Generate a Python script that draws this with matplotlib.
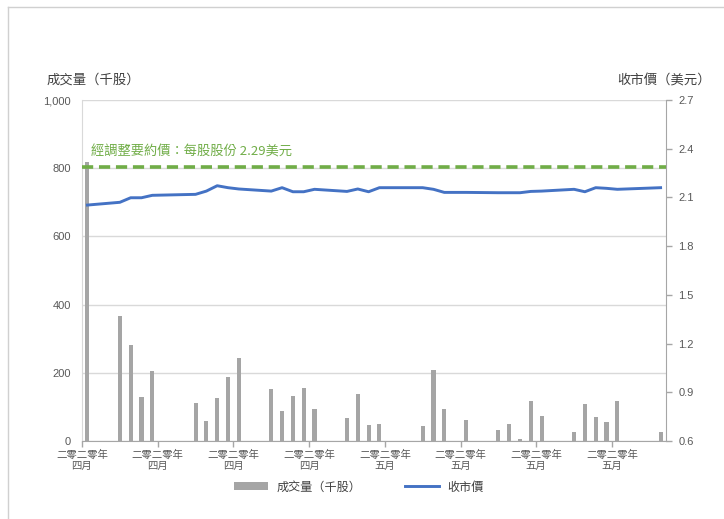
import matplotlib
matplotlib.use("Agg")
import matplotlib.pyplot as plt
import pandas as pd
from matplotlib.lines import Line2D
from matplotlib.patches import Patch

# Trading days, daily volume (thousand shares) and closing price (USD)
trade_dates = [
    "2020-04-03",
    "2020-04-06", "2020-04-07", "2020-04-08", "2020-04-09",
    "2020-04-13", "2020-04-14", "2020-04-15", "2020-04-16", "2020-04-17",
    "2020-04-20", "2020-04-21", "2020-04-22", "2020-04-23", "2020-04-24",
    "2020-04-27", "2020-04-28", "2020-04-29", "2020-04-30", "2020-05-01",
    "2020-05-04", "2020-05-05", "2020-05-06", "2020-05-07", "2020-05-08",
    "2020-05-11", "2020-05-12", "2020-05-13", "2020-05-14", "2020-05-15",
    "2020-05-18", "2020-05-19", "2020-05-20", "2020-05-21", "2020-05-22",
    "2020-05-26",
]
volume = [
    819,
    367, 281, 128, 206,
    112, 59, 126, 188, 244,
    152, 87, 132, 154, 95,
    68, 137, 47, 51, 0,
    45, 208, 94, 0, 62,
    33, 49, 5, 118, 73,
    27, 108, 69, 55, 116,
    27,
]
close_price = [
    2.053,
    2.070, 2.098, 2.098, 2.113,
    2.119, 2.139, 2.172, 2.160, 2.152,
    2.139, 2.160, 2.135, 2.135, 2.150,
    2.137, 2.152, 2.135, 2.160, 2.160,
    2.160, 2.150, 2.131, 2.131, 2.131,
    2.129, 2.129, 2.129, 2.137, 2.139,
    2.150, 2.135, 2.160, 2.156, 2.150,
    2.160,
]
offer_price = 2.29
axis_start = "2020-04-03"
axis_end = "2020-05-26"
tick_dates = ["2020-04-03", "2020-04-10", "2020-04-17", "2020-04-24",
              "2020-05-01", "2020-05-08", "2020-05-15", "2020-05-22"]
tick_labels = ["二零二零年\n四月"] * 4 + ["二零二零年\n五月"] * 4

vol_label = "成交量（千股）"
price_label = "收市價"
price_axis_label = "收市價（美元）"
offer_text = "經調整要約價：每股股份 2.29美元"

CJK = ["Noto Sans CJK TC", "DejaVu Sans"]
NUM = ["Liberation Sans", "DejaVu Sans"]
TXT = "#595959"
GREY_BAR = "#A5A5A5"
BLUE = "#4472C4"
GREEN = "#70AD47"

start = pd.Timestamp(axis_start)
day_idx = [(pd.Timestamp(d) - start).days for d in trade_dates]
n_days = (pd.Timestamp(axis_end) - start).days + 1
tick_pos = [(pd.Timestamp(d) - start).days - 0.5 for d in tick_dates]

W, H = 724, 519
fig = plt.figure(figsize=(W / 100, H / 100), dpi=100)

# outer chart frame
fig.add_artist(Line2D([8 / W, 8 / W], [0, 1 - 7 / H], transform=fig.transFigure,
                      color="#D0D0D0", lw=1))
fig.add_artist(Line2D([8 / W, 1], [1 - 7 / H, 1 - 7 / H], transform=fig.transFigure,
                      color="#D0D0D0", lw=1))

left, right, top, bottom = 82, 666, 100, 441
ax = fig.add_axes([left / W, 1 - bottom / H, (right - left) / W, (bottom - top) / H])
ax2 = ax.twinx()

# volume bars
ax.bar(day_idx, volume, width=0.38, color=GREY_BAR, zorder=2)
ax.set_xlim(-0.5, n_days - 0.5)
ax.set_ylim(0, 1000)
ax.set_yticks([0, 200, 400, 600, 800, 1000])
ax.set_yticklabels([f"{v:,}" for v in [0, 200, 400, 600, 800, 1000]],
                   fontfamily=NUM, fontsize=8, color=TXT)
ax.yaxis.grid(True, color="#D9D9D9", lw=1, zorder=0)
ax.set_axisbelow(True)
ax.tick_params(axis="y", length=0, pad=8)
ax.set_xticks(tick_pos)
ax.set_xticklabels(tick_labels, fontfamily=CJK, fontsize=7.5, color=TXT,
                   linespacing=1.15)
ax.tick_params(axis="x", length=4, width=1, color="#A6A6A6", pad=2)
for s in ["top", "right"]:
    ax.spines[s].set_visible(False)
ax.spines["left"].set_color("#D9D9D9")
ax.spines["bottom"].set_color("#A6A6A6")

# closing price and offer price
ax2.plot(day_idx, close_price, color=BLUE, lw=2.1, zorder=3,
         solid_joinstyle="round")
ax2.axhline(offer_price, color=GREEN, lw=2.6, dashes=(3.1, 1.6), zorder=3)
ax2.set_ylim(0.6, 2.7)
pticks = [0.6, 0.9, 1.2, 1.5, 1.8, 2.1, 2.4, 2.7]
ax2.set_yticks(pticks)
ax2.set_yticklabels([f"{v:.1f}" for v in pticks], fontfamily=NUM, fontsize=8,
                    color=TXT)
ax2.tick_params(axis="y", length=4, width=1, color="#A6A6A6", pad=5)
for s in ["top", "left", "bottom"]:
    ax2.spines[s].set_visible(False)
ax2.spines["right"].set_color("#A6A6A6")

fig.text(91 / W, 1 - 152 / H, offer_text, fontfamily=CJK, fontsize=9.5,
         color=GREEN, va="center", ha="left")

fig.text(47 / W, 1 - 80 / H, vol_label, fontfamily=CJK, fontsize=9.6,
         color="#404040", ha="left", va="center")
fig.text(711 / W, 1 - 80 / H, price_axis_label, fontfamily=CJK, fontsize=9.6,
         color="#404040", ha="right", va="center")

handles = [Patch(facecolor=GREY_BAR, edgecolor="none"),
           Line2D([], [], color=BLUE, lw=2.1)]
fig.legend(handles, [vol_label, price_label], loc="center",
           bbox_to_anchor=(359 / W, 1 - 487 / H), ncol=2, frameon=False,
           prop={"family": CJK, "size": 8.7}, labelcolor="#404040",
           handlelength=2.8, handleheight=0.6, handletextpad=0.7,
           columnspacing=3.6)

fig.savefig("out.png", dpi=100)
